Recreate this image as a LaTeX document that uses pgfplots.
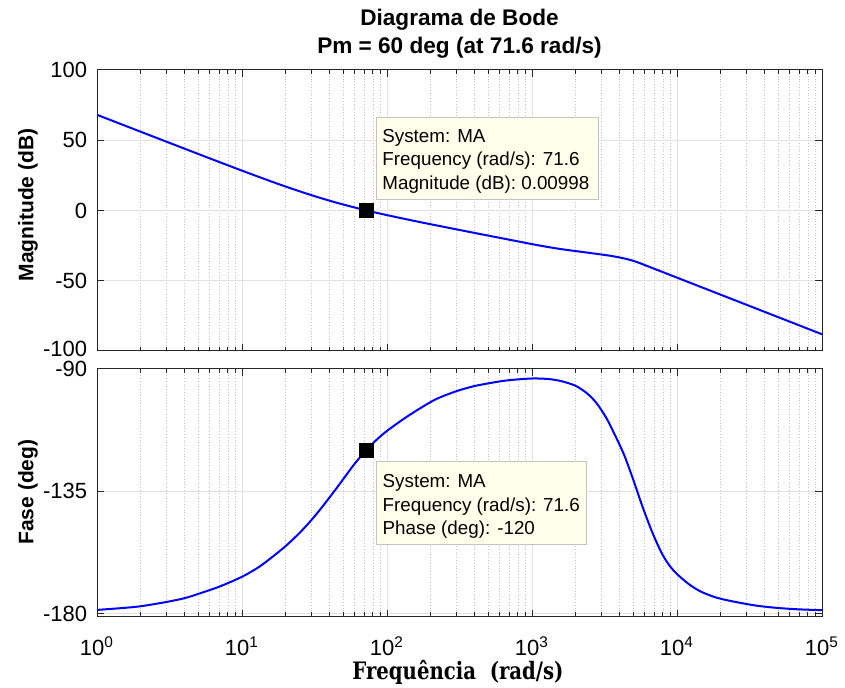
\documentclass[border=0pt]{standalone}
\usepackage{fontspec}
\setmainfont{Liberation Sans}
\newfontfamily\xlabfont{DejaVu Serif}
\usepackage{pgfplots}
\pgfplotsset{compat=1.18}
\definecolor{tipbg}{RGB}{255,255,235}
\definecolor{tipedge}{RGB}{195,195,195}
\definecolor{axcol}{RGB}{38,38,38}
\definecolor{majgrid}{RGB}{226,226,226}
\definecolor{mingrid}{RGB}{195,195,195}
\pgfplotsset{bodeax/.style={
  scale only axis, width=362.5pt, xmin=1, xmax=1e5,
  anchor=north west,
  axis line style={axcol, line width=0.5pt},
  every tick/.style={axcol, line width=0.5pt},
  major tick length=3.6pt, minor tick length=2.2pt,
  grid=both,
  major grid style={majgrid, line width=0.5pt},
  minor grid style={mingrid, densely dotted, line width=0.4pt},
  xtick={1,10,100,1000,10000,100000},
  minor xtick={2,3,4,5,6,7,8,9,20,30,40,50,60,70,80,90,200,300,400,500,600,700,800,900,2000,3000,4000,5000,6000,7000,8000,9000,20000,30000,40000,50000,60000,70000,80000,90000},
  tick label style={font=\fontsize{11}{13}\selectfont},
  yticklabel style={anchor=east, inner sep=0pt, xshift=-4.7pt},
  xticklabel style={anchor=base, inner sep=0pt, yshift=-19.15pt},
}}
\begin{document}
\begin{tikzpicture}
\useasboundingbox (0,0) rectangle (422.5pt,-344pt);
% magnitude
\begin{semilogxaxis}[bodeax, at={(48.5pt,-35pt)}, height=140.5pt,
  ymin=-100, ymax=100, ytick={-100,-50,0,50,100},
  yticklabels={\raisebox{2.4pt}{-100},-50,0,50,100}, xticklabels={}]
\addplot[blue, line width=1pt, smooth] coordinates {
(1,68.1)(1.5,61.06)(2,56.07)(3,49.04)(5,40.21)(7,34.43)(10,28.36)(15,21.64)(20,17.03)(30,10.96)(40,7.03)(50,4.23)(71.6,0.1)(100,-3.30)(150,-7.16)(200,-9.79)(300,-13.40)(500,-17.89)(700,-20.82)(1000,-23.93)(1250,-25.75)(1500,-27.1)(1750,-28.1)(2000,-28.9)(2500,-30.2)(3000,-31.3)(3500,-32.3)(4000,-33.4)(4500,-34.55)(5000,-35.85)(5500,-37.35)(6000,-38.85)(7000,-41.55)(8000,-43.88)(10000,-47.79)(12000,-50.98)(15000,-54.89)(20000,-59.92)(30000,-67.02)(50000,-75.96)(70000,-81.85)(100000,-88.09)};
\addplot[only marks, mark=square*, mark size=3.5pt, black] coordinates {(71.6,0.00998)};
\end{semilogxaxis}
% phase
\begin{semilogxaxis}[bodeax, at={(48.5pt,-184.5pt)}, height=123.85pt,
  ymin=-181.2, ymax=-90, ytick={-180,-135,-90},
  yticklabels={-180,-135,\raisebox{-2.4pt}{-90}},
  xticklabels={10\textsuperscript{0},10\textsuperscript{1},10\textsuperscript{2},10\textsuperscript{3},10\textsuperscript{4},10\textsuperscript{5}}]
\addplot[blue, line width=1pt, smooth] coordinates {
(1,-178.7)(1.5,-178.0)(2,-177.35)(3,-175.8)(4,-174.4)(5,-172.8)(7,-170.1)(10,-166.5)(13,-163.0)(16,-159.4)(20,-155.2)(25,-150.3)(30,-145.7)(35,-141.4)(40,-137.4)(45,-133.8)(50,-130.5)(60,-124.8)(71.6,-120.0)(85,-116.0)(100,-112.8)(130,-108.4)(170,-104.4)(220,-101.0)(300,-98.2)(400,-96.3)(550,-94.9)(700,-94.1)(1000,-93.5)(1300,-93.7)(1600,-94.5)(2000,-96.2)(2400,-99.0)(2800,-102.7)(3270,-108.2)(3700,-113.9)(4270,-121.0)(4800,-128.2)(5270,-134.4)(5800,-140.9)(6510,-148.0)(7200,-153.6)(8050,-158.9)(9000,-162.8)(10000,-165.5)(12000,-169.1)(14400,-171.8)(18000,-173.9)(22000,-175.1)(30000,-176.5)(37300,-177.3)(50000,-178.0)(70000,-178.5)(100000,-178.8)};
\addplot[only marks, mark=square*, mark size=3.5pt, black] coordinates {(71.6,-120)};
\end{semilogxaxis}
% titles
\node[anchor=base, font=\fontsize{11.3}{13}\selectfont\bfseries] at (229.75pt,-13pt) {Diagrama de Bode};
\node[anchor=base, font=\fontsize{11.3}{13}\selectfont\bfseries] at (229.75pt,-27pt) {Pm = 60 deg (at 71.6 rad/s)};
% y labels
\node[rotate=90, font=\fontsize{10.5}{12}\selectfont\bfseries] at (14pt,-102.5pt) {Magnitude (dB)};
\node[rotate=90, font=\fontsize{10.5}{12}\selectfont\bfseries] at (14pt,-246pt) {Fase (deg)};
% x label
\node[anchor=base] at (229pt,-339.5pt) {\scalebox{0.82}[1]{\xlabfont\bfseries\fontsize{12}{14}\selectfont Frequência\ \ (rad/s)}};
% data tips
\draw[tipedge, fill=tipbg, line width=0.5pt] (188pt,-58.65pt) rectangle (299pt,-100pt);
\begin{scope}[every node/.style={anchor=base west, inner sep=0pt, font=\fontsize{9.4}{11}\selectfont}]
\node at (191pt,-71.35pt) {System: MA};
\node at (191pt,-83pt) {Frequency (rad/s): 71.6};
\node at (191pt,-95pt) {Magnitude (dB): 0.00998};
\end{scope}
\draw[tipedge, fill=tipbg, line width=0.5pt] (188pt,-230.85pt) rectangle (293.35pt,-272.5pt);
\begin{scope}[every node/.style={anchor=base west, inner sep=0pt, font=\fontsize{9.4}{11}\selectfont}]
\node at (191.15pt,-243.65pt) {System: MA};
\node at (191.15pt,-255.85pt) {Frequency (rad/s): 71.6};
\node at (191.15pt,-267.5pt) {Phase (deg): -120};
\end{scope}
\end{tikzpicture}
\end{document}
